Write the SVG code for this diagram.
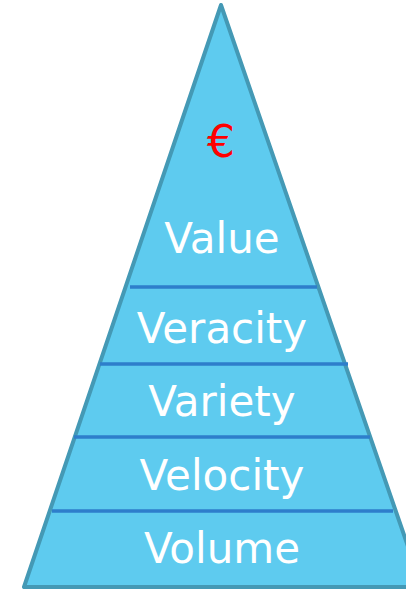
<svg xmlns="http://www.w3.org/2000/svg" width="406" height="590" viewBox="0 0 406 590">
<style>
.lbl{font-family:"DejaVu Sans",Verdana,sans-serif;font-size:42px;fill:#ffffff;text-anchor:middle}
.sep{stroke:#2e7ecb;stroke-width:3.5}
</style>
<rect width="406" height="590" fill="#ffffff"/>
<g id="pyramid">
<polygon points="221,5 24,587 422,587" fill="#5ecbef" stroke="#4499b5" stroke-width="4" stroke-linejoin="round"/>
</g>
<g id="connectors">
<line class="sep" x1="130" y1="287" x2="317" y2="287"/>
<line class="sep" x1="100" y1="364" x2="348" y2="364"/>
<line class="sep" x1="74" y1="437" x2="370" y2="437"/>
<line class="sep" x1="52" y1="511" x2="393" y2="511"/>
</g>
<g id="euro"><text x="221" y="157" style="font-family:'DejaVu Sans',sans-serif;font-size:44px;fill:#ff0000;text-anchor:middle">€</text></g>
<g id="value"><text class="lbl" x="222" y="253">Value</text></g>
<g id="veracity"><text class="lbl" x="222" y="343">Veracity</text></g>
<g id="variety"><text class="lbl" x="222" y="416">Variety</text></g>
<g id="velocity"><text class="lbl" x="222" y="490">Velocity</text></g>
<g id="volume"><text class="lbl" x="222" y="563">Volume</text></g>
</svg>
